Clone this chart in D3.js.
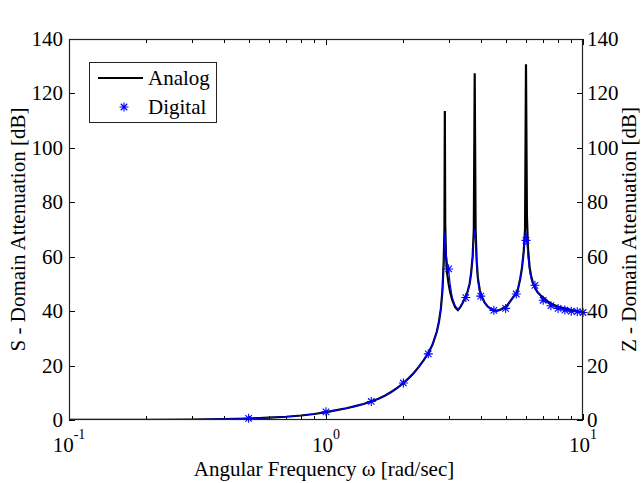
<!DOCTYPE html>
<html>
<head>
<meta charset="utf-8">
<script src="https://cdn.jsdelivr.net/npm/d3@7"></script>
<style>
  body { margin: 0; background: #fff; }
  text { font-family: "Liberation Serif", "Times New Roman", serif; fill: #000; }
</style>
</head>
<body>
<div id="chart"></div>
<script>
// analog (s-domain) attenuation curve
const analogOmega = [0.1, 0.15, 0.2, 0.3, 0.4, 0.5, 0.6, 0.7, 0.8, 0.9, 1.0, 1.1, 1.2, 1.3, 1.4, 1.5, 1.6, 1.7, 1.8, 1.9,
  2.0, 2.1, 2.2, 2.3, 2.4, 2.5, 2.6, 2.7, 2.75, 2.8, 2.84, 2.87, 2.89, 2.90, 2.91, 2.93, 2.96, 3.0, 3.04, 3.1,
  3.18, 3.26, 3.33, 3.4, 3.48, 3.54, 3.62, 3.67, 3.72, 3.76, 3.79, 3.82, 3.86, 3.9, 3.97, 4.05, 4.15, 4.25, 4.35, 4.47,
  4.63, 4.84, 5.06, 5.2, 5.34, 5.5, 5.58, 5.7, 5.79, 5.88, 5.95, 6.0, 6.05, 6.11, 6.2, 6.28, 6.4, 6.51, 6.65, 6.8,
  7.0, 7.31, 7.6, 8.0, 8.5, 9.0, 9.5, 10];
const analogDb = [0.02, 0.04, 0.07, 0.16, 0.3, 0.55, 0.85, 1.2, 1.65, 2.2, 2.9, 3.6, 4.3, 5.1, 5.9, 6.8, 7.8, 9.0, 10.4, 11.9,
  13.6, 15.4, 17.4, 19.6, 22.0, 24.5, 27.8, 32.5, 36, 41, 48, 58, 70, 113.5, 72, 60, 54, 50, 47, 44,
  41.5, 40.4, 41.5, 43, 45, 46.5, 50, 54, 60, 70, 127.4, 70, 58, 52, 47.5, 45, 43, 41.8, 41, 40.4,
  40.1, 40.8, 42, 43.5, 45, 46.5, 48, 52, 56, 62, 70, 130.7, 75, 63, 56, 53, 50, 48.5, 47, 46,
  45, 43.5, 42.5, 41.6, 41, 40.4, 39.9, 39.5];

// digital (z-domain) curve, same frequency grid
const digitalDb = [0.02, 0.04, 0.07, 0.16, 0.3, 0.55, 0.85, 1.2, 1.65, 2.2, 2.9, 3.6, 4.3, 5.1, 5.9, 6.8, 7.8, 9.0, 10.4, 11.9,
  13.6, 15.4, 17.4, 19.6, 22.0, 24.5, 27.8, 32.5, 36, 41, 48, 58, 66, 69, 67, 62, 58, 55.5, 50, 45,
  42, 40.6, 41.5, 43, 45, 46.5, 50, 54, 60, 67, 70, 66, 57, 51, 46.5, 45, 43, 41.8, 41, 40.3,
  40.1, 40.8, 42, 43.5, 45, 46.3, 48, 52, 56, 62, 68, 69, 66, 60, 55, 52, 50, 49, 47, 46,
  44, 43, 42, 41, 40.4, 40, 39.8, 39.5];

// digital samples drawn as asterisks
const markerOmega = [0.5, 1, 1.5, 2, 2.5, 3, 3.5, 4, 4.5, 5, 5.5, 6, 6.5, 7, 7.5, 8, 8.5, 9, 9.5, 10];
const markerDb = [0.6, 3, 6.8, 13.6, 24.3, 55.5, 45, 45.5, 40.3, 41, 46.3, 66, 49.5, 44, 42, 41, 40.4, 40, 39.8, 39.5];

const yTicks = [0, 20, 40, 60, 80, 100, 120, 140];
const xMajor = [0.1, 1, 10];
const xLabels = [["10", "-1"], ["10", "0"], ["10", "1"]];

const W = 641, H = 483;
const pLeft = 69, pRight = 583, pTop = 39, pBottom = 420;
const fs = "21px";

const svg = d3.select("#chart").append("svg")
  .attr("width", W).attr("height", H);

const x = d3.scaleLog().domain([0.1, 10]).range([pLeft, pRight]);
const y = d3.scaleLinear().domain([0, 140]).range([pBottom, pTop]);

const xMinor = [];
[0.1, 1].forEach(d => { for (let k = 2; k <= 9; k++) xMinor.push(d * k); });

// ticks on all four sides (pointing inward)
const tickG = svg.append("g").attr("stroke", "#000").attr("stroke-width", 1);
xMajor.concat(xMinor).forEach(v => {
  const len = xMajor.includes(v) ? 6 : 4;
  const px = Math.round(x(v)) + 0.5;
  tickG.append("line").attr("x1", px).attr("x2", px).attr("y1", pBottom).attr("y2", pBottom - len);
  tickG.append("line").attr("x1", px).attr("x2", px).attr("y1", pTop).attr("y2", pTop + len);
});
yTicks.forEach(v => {
  const py = Math.round(y(v)) + 0.5;
  tickG.append("line").attr("x1", pLeft).attr("x2", pLeft + 6).attr("y1", py).attr("y2", py);
  tickG.append("line").attr("x1", pRight).attr("x2", pRight - 6).attr("y1", py).attr("y2", py);
});

// y tick labels, left and right
svg.selectAll(".yl").data(yTicks).join("text")
  .attr("x", pLeft - 6).attr("y", d => y(d)).attr("dy", "0.33em")
  .attr("text-anchor", "end").style("font-size", fs).text(d => d);
svg.selectAll(".yr").data(yTicks).join("text")
  .attr("x", pRight + 4).attr("y", d => y(d)).attr("dy", "0.33em")
  .attr("text-anchor", "start").style("font-size", fs).text(d => d);

// x tick labels with exponents
xMajor.forEach((v, i) => {
  const t = svg.append("text").attr("x", x(v)).attr("y", 452)
    .attr("text-anchor", "middle").style("font-size", fs);
  t.append("tspan").text(xLabels[i][0]);
  t.append("tspan").attr("dy", -13).style("font-size", "14px").text(xLabels[i][1]);
});

// curves
svg.append("clipPath").attr("id", "clip")
  .append("rect").attr("x", pLeft).attr("y", pTop).attr("width", pRight - pLeft).attr("height", pBottom - pTop);

const plot = svg.append("g").attr("clip-path", "url(#clip)");
const line = d3.line().x(d => x(d[0])).y(d => y(d[1]));

plot.append("path")
  .datum(analogOmega.map((w, i) => [w, analogDb[i]]))
  .attr("fill", "none").attr("stroke", "#000").attr("stroke-width", 2.2)
  .attr("d", line);

plot.append("path")
  .datum(analogOmega.map((w, i) => [w, digitalDb[i]]))
  .attr("fill", "none").attr("stroke", "#0000ff").attr("stroke-width", 1.2)
  .attr("d", line);

const star = r => `M${-r},0H${r}M0,${-r}V${r}M${-r * 0.72},${-r * 0.72}L${r * 0.72},${r * 0.72}M${-r * 0.72},${r * 0.72}L${r * 0.72},${-r * 0.72}`;

svg.append("g").selectAll("path")
  .data(markerOmega.map((w, i) => [w, markerDb[i]]))
  .join("path")
  .attr("transform", d => `translate(${x(d[0])},${y(d[1])})`)
  .attr("d", star(4.5))
  .attr("fill", "none").attr("stroke", "#0000ff").attr("stroke-width", 1.1);

// frame
svg.append("rect").attr("x", pLeft + 0.5).attr("y", pTop + 0.5)
  .attr("width", pRight - pLeft - 1).attr("height", pBottom - pTop - 1)
  .attr("fill", "none").attr("stroke", "#222").attr("stroke-width", 1.2);

// axis titles
svg.append("text").attr("x", (pLeft + pRight) / 2 - 2).attr("y", 476)
  .attr("text-anchor", "middle").style("font-size", fs)
  .text("Angular Frequency ω [rad/sec]");
svg.append("text").attr("transform", `translate(25,${(pTop + pBottom) / 2}) rotate(-90)`)
  .attr("text-anchor", "middle").style("font-size", fs)
  .text("S - Domain Attenuation [dB]");
svg.append("text").attr("transform", `translate(636,${(pTop + pBottom) / 2}) rotate(-90)`)
  .attr("text-anchor", "middle").style("font-size", fs)
  .text("Z - Domain Attenuation [dB]");

// legend
const lg = svg.append("g");
lg.append("rect").attr("x", 89.5).attr("y", 62.5).attr("width", 127).attr("height", 60)
  .attr("fill", "#fff").attr("stroke", "#222").attr("stroke-width", 1);
lg.append("line").attr("x1", 98).attr("x2", 143).attr("y1", 78).attr("y2", 78)
  .attr("stroke", "#000").attr("stroke-width", 2.2);
lg.append("path").attr("transform", "translate(124,107)").attr("d", star(4.5))
  .attr("fill", "none").attr("stroke", "#0000ff").attr("stroke-width", 1.1);
lg.append("text").attr("x", 148).attr("y", 85).style("font-size", fs).text("Analog");
lg.append("text").attr("x", 148).attr("y", 114).style("font-size", fs).text("Digital");
</script>
</body>
</html>
